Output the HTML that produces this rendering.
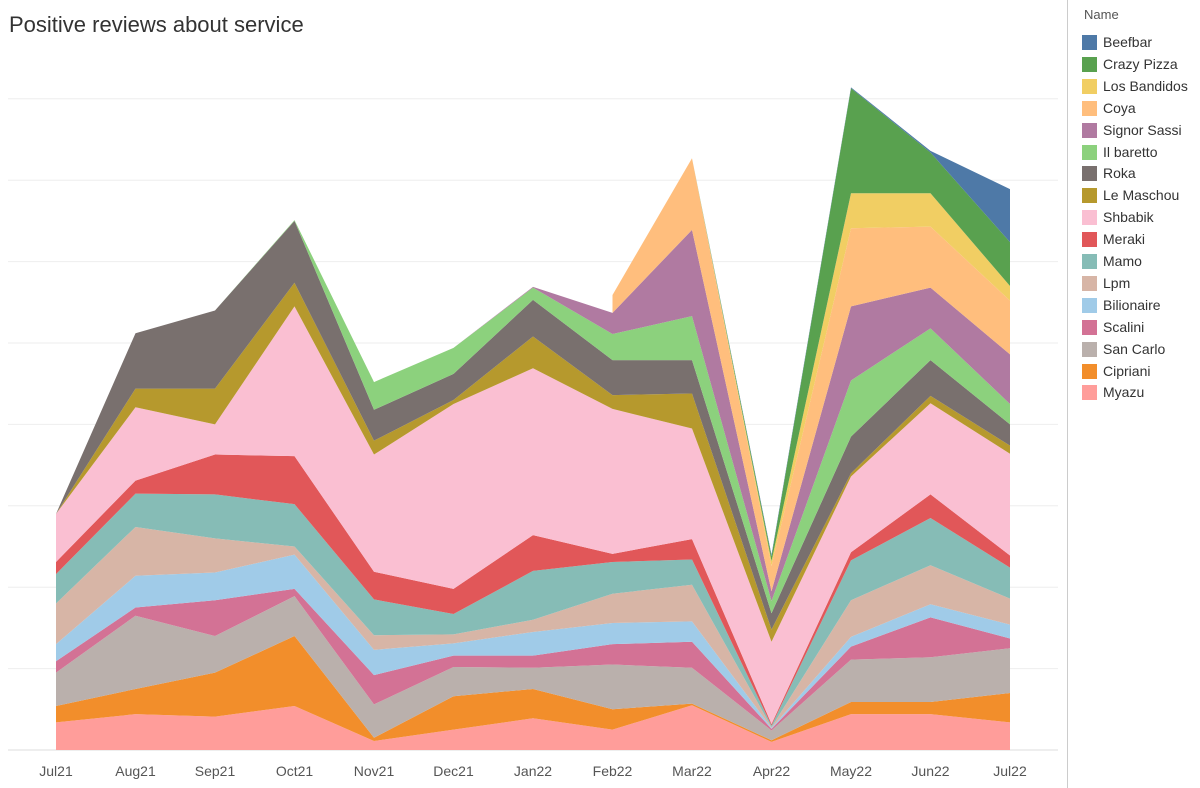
<!DOCTYPE html>
<html><head><meta charset="utf-8"><style>
body{margin:0;width:1200px;height:788px;background:#fff;font-family:"Liberation Sans",sans-serif;overflow:hidden;position:relative}
#title{position:absolute;left:9px;top:12px;font-size:22px;color:#333}
#legend{position:absolute;left:1067px;top:0;width:133px;height:788px;border-left:1px solid #ccc;background:#fff}
.lh{position:absolute;left:16px;top:7px;font-size:13px;color:#555}
.le{position:absolute;left:14px;height:16px;font-size:14px;color:#333;white-space:nowrap}
.sw{display:inline-block;width:15px;height:15px;vertical-align:-3px;margin-right:6px}
</style></head><body>
<div id="title">Positive reviews about service</div>
<svg id="chart" width="1066" height="788" style="position:absolute;left:0;top:0"></svg>
<div id="legend"><div class="lh">Name</div></div>
<script>
const months=["Jul21","Aug21","Sep21","Oct21","Nov21","Dec21","Jan22","Feb22","Mar22","Apr22","May22","Jun22","Jul22"];
const names=["Myazu","Cipriani","San Carlo","Scalini","Bilionaire","Lpm","Mamo","Meraki","Shbabik","Le Maschou","Roka","Il baretto","Signor Sassi","Coya","Los Bandidos","Crazy Pizza","Beefbar"];
const colors=["#ff9d9a","#f28e2b","#bab0ac","#d37295","#a0cbe8","#d7b5a6","#86bcb6","#e15759","#fabfd2","#b6992d","#79706e","#8cd17d","#b07aa1","#ffbe7d","#f1ce63","#59a14f","#4e79a7"];
const myazu=[3.4,4.4,4.1,5.4,1.1,2.5,3.9,2.5,5.5,1.0,4.4,4.4,3.4];
const cipriani=[2.0,3.1,5.4,8.6,0.4,4.1,3.6,2.5,0.2,0.2,1.5,1.5,3.6];
const sanCarlo=[4.1,9.0,4.5,4.9,4.1,3.6,2.6,5.5,4.4,1.2,5.2,5.5,5.5];
const scalini=[1.4,1.0,4.4,0.9,3.6,1.4,1.5,2.5,3.2,0.2,1.6,4.9,1.2];
const bilionaire=[2.1,3.9,3.4,4.2,3.1,1.5,2.9,2.6,2.5,0.1,1.2,1.6,1.7];
const lpm=[5.0,6.0,4.2,1.0,1.8,1.1,1.5,3.6,4.5,0.1,4.5,4.8,3.2];
const mamo=[3.6,4.1,5.4,5.2,4.4,2.5,6.0,3.9,3.1,0.2,4.9,5.8,3.8];
const meraki=[1.5,1.6,4.9,5.9,3.4,3.1,4.4,1.0,2.5,0.2,1.0,2.9,1.5];
const shbabik=[5.9,9.0,3.7,18.4,14.4,22.7,20.5,17.8,13.6,10.1,9.3,11.2,12.5];
const leMaschou=[0,2.3,4.4,2.9,1.7,0.5,3.9,1.7,4.3,1.5,0.4,0.9,1.0];
const roka=[0,6.8,9.6,7.6,3.8,3.2,4.5,4.3,4.1,2.0,4.5,4.4,2.6];
const ilBaretto=[0,0,0,0.1,3.4,3.2,1.5,3.2,5.4,1.5,6.9,3.9,2.5];
const signorSassi=[0,0,0,0,0,0,0.1,2.6,10.6,1.2,9.1,5.0,6.1];
const coya=[null,null,null,null,null,null,null,2.2,8.8,3.1,9.6,7.5,6.6];
const losBandidos=[0,0,0,0,0,0,0,0,0,0.6,4.3,4.1,1.8];
const crazyPizza=[0,0,0,0,0,0,0,0,0,0.6,12.9,5.0,5.4];
const beefbar=[0,0,0,0,0,0,0,0,0,0.2,0.1,0.2,6.5];
const series=[myazu,cipriani,sanCarlo,scalini,bilionaire,lpm,mamo,meraki,shbabik,leMaschou,roka,ilBaretto,signorSassi,coya,losBandidos,crazyPizza,beefbar];
const yTicks=[0,10,20,30,40,50,60,70,80];
const NS="http://www.w3.org/2000/svg";
const svg=document.getElementById('chart');
const x=i=>56+i*79.5;
const y=v=>750-v*8.14;
yTicks.forEach(t=>{const l=document.createElementNS(NS,'line');
l.setAttribute('x1',8);l.setAttribute('x2',1058);l.setAttribute('y1',y(t));l.setAttribute('y2',y(t));
l.setAttribute('stroke',t===0?'#ddd':'#eee');l.setAttribute('stroke-width',1);


svg.appendChild(l);});
let base=months.map(()=>0);
series.forEach((s,k)=>{
 const top=base.map((b,i)=>b+(s[i]||0));
 const idx=months.map((m,i)=>i).filter(i=>s[i]!==null);
 let d='M'+idx.map(i=>x(i)+','+y(top[i])).join('L');
 for(let j=idx.length-1;j>=0;j--)d+='L'+x(idx[j])+','+y(base[idx[j]]);
 d+='Z';
 const p=document.createElementNS(NS,'path');p.setAttribute('d',d);p.setAttribute('fill',colors[k]);
 
 
 svg.appendChild(p);base=top;});
months.forEach((m,i)=>{const t=document.createElementNS(NS,'text');t.setAttribute('x',x(i));t.setAttribute('y',776);
t.setAttribute('text-anchor','middle');t.setAttribute('font-size','14');t.setAttribute('fill','#555');t.textContent=m;


svg.appendChild(t);});
const lg=document.getElementById('legend');
for(let k=names.length-1,j=0;k>=0;k--,j++){const e=document.createElement('div');e.className='le';e.style.top=(34+j*21.9)+'px';
e.innerHTML='<span class="sw" style="background:'+colors[k]+'"></span>'+names[k];


lg.appendChild(e);}
</script>
</body></html>
